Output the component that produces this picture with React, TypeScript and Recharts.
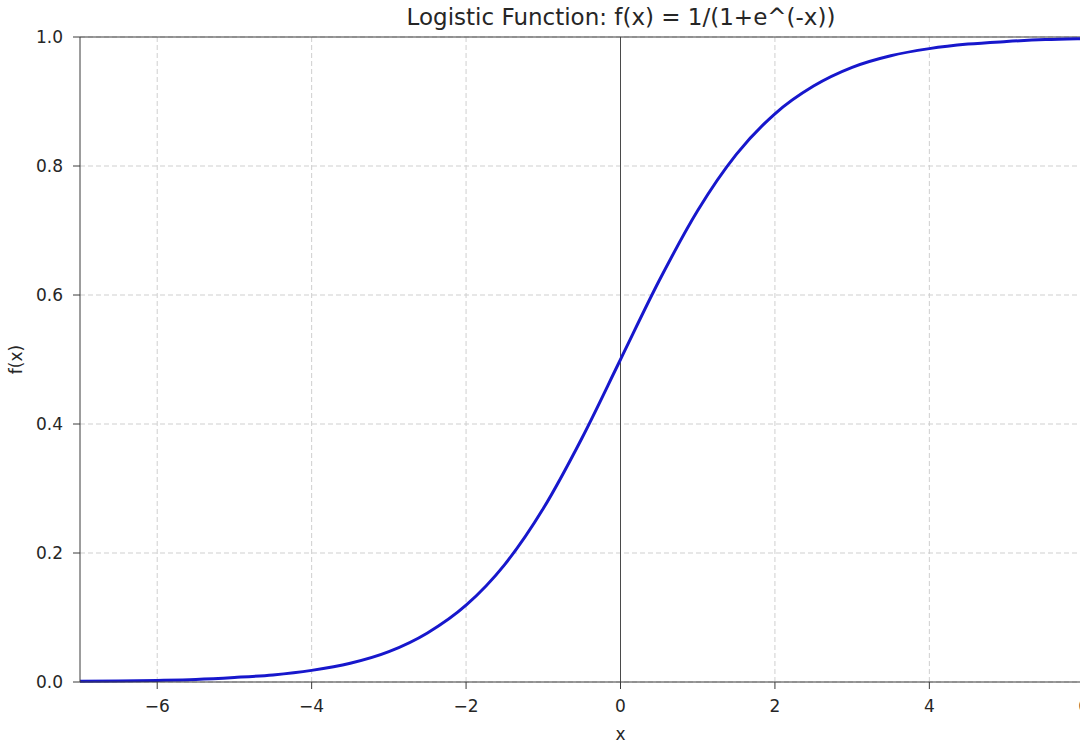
import {
  CartesianGrid,
  Label,
  Line,
  LineChart,
  ReferenceLine,
  XAxis,
  YAxis,
} from "recharts";

// values
const xValues = [
  -7, -6.5, -6, -5.5, -5, -4.5, -4, -3.5, -3, -2.5, -2, -1.5, -1, -0.5, 0, 0.5,
  1, 1.5, 2, 2.5, 3, 3.5, 4, 4.5, 5, 5.5, 6, 6.5, 7,
];
const fValues = [
  0.001, 0.0015, 0.0025, 0.004, 0.007, 0.011, 0.018, 0.029, 0.047, 0.076,
  0.119, 0.182, 0.269, 0.378, 0.5, 0.622, 0.731, 0.818, 0.881, 0.924, 0.953,
  0.971, 0.982, 0.989, 0.993, 0.996, 0.9975, 0.9985, 0.999,
];
const xTicks = [-6, -4, -2, 0, 2, 4, 6];
const yTicks = [0, 0.2, 0.4, 0.6, 0.8, 1.0];

const data = xValues.map((x, i) => ({ x, y: fValues[i] }));

const font = "'DejaVu Sans', sans-serif";
const axisColor = "#3a3a3a";
const textColor = "#262626";

const formatX = (v: number) => (v < 0 ? `\u2212${-v}` : `${v}`);

export default function App() {
  return (
    <div
      style={{
        position: "absolute",
        left: 0,
        top: 0,
        width: 1080,
        height: 744,
        overflow: "hidden",
        background: "#fff",
        fontFamily: font,
      }}
    >
      <div
        style={{
          position: "absolute",
          left: 0,
          width: 1242,
          top: 4,
          textAlign: "center",
          fontSize: 23,
          lineHeight: "26px",
          color: textColor,
          whiteSpace: "nowrap",
        }}
      >
        Logistic Function: f(x) = 1/(1+e^(-x))
      </div>
      <LineChart
        width={1162}
        height={744}
        data={data}
        margin={{ top: 37, right: 1, left: 0, bottom: 0 }}
      >
        <CartesianGrid
          stroke="#cfcfcf"
          strokeDasharray="5 3"
          horizontalValues={yTicks}
          verticalValues={xTicks}
        />
        <XAxis
          dataKey="x"
          type="number"
          domain={[-7, 7]}
          ticks={xTicks}
          tickFormatter={formatX}
          height={62}
          tickSize={7}
          tickMargin={11}
          stroke={axisColor}
          tick={{ fill: textColor, fontSize: 17, fontFamily: font }}
          allowDataOverflow
        >
          <Label
            value="x"
            position="insideBottom"
            offset={4}
            style={{ fill: textColor, fontSize: 17, fontFamily: font }}
          />
        </XAxis>
        <YAxis
          type="number"
          domain={[0, 1]}
          ticks={yTicks}
          tickFormatter={(v: number) => v.toFixed(1)}
          width={80}
          tickSize={7}
          tickMargin={10}
          stroke={axisColor}
          tick={{ fill: textColor, fontSize: 17, fontFamily: font }}
        >
          <Label
            value="f(x)"
            angle={-90}
            position="insideLeft"
            offset={16}
            style={{
              fill: textColor,
              fontSize: 17,
              fontFamily: font,
              textAnchor: "middle",
            }}
          />
        </YAxis>
        <ReferenceLine x={0} stroke="#4a4a4a" strokeWidth={1} />
        <ReferenceLine y={1} stroke={axisColor} strokeWidth={1.2} />
        <Line
          type="monotone"
          dataKey="y"
          stroke="#1717cc"
          strokeWidth={3}
          dot={false}
          activeDot={false}
          isAnimationActive={false}
        />
      </LineChart>
    </div>
  );
}
